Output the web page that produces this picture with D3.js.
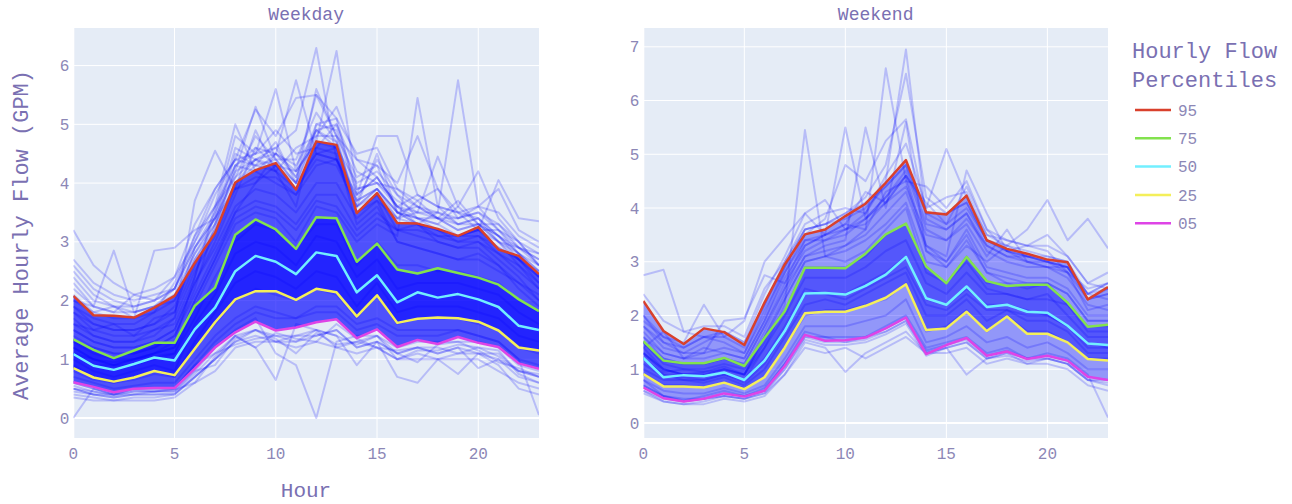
<!DOCTYPE html>
<html>
<head>
<meta charset="utf-8">
<script src="https://cdn.jsdelivr.net/npm/d3@7"></script>
<style>
  body { margin: 0; background: #ffffff; }
  svg { display: block; }
  text { font-family: "Liberation Mono", "Courier New", monospace; }
</style>
</head>
<body>
<svg id="chart" width="1292" height="504"></svg>
<script>
// ---- data -------------------------------------------------------------
const hours = [0,1,2,3,4,5,6,7,8,9,10,11,12,13,14,15,16,17,18,19,20,21,22,23];
const xTicks = [0, 5, 10, 15, 20];
const weekdayYTicks = [0, 1, 2, 3, 4, 5, 6];
const weekendYTicks = [0, 1, 2, 3, 4, 5, 6, 7];
const percentileNames = ["95", "75", "50", "25", "05"];

// weekday hourly-flow percentiles (GPM)
const weekdayP95 = [2.08,1.75,1.74,1.71,1.88,2.08,2.64,3.15,4.01,4.22,4.34,3.89,4.71,4.65,3.49,3.83,3.32,3.31,3.22,3.10,3.25,2.87,2.76,2.45];
const weekdayP75 = [1.34,1.16,1.02,1.15,1.28,1.28,1.91,2.22,3.12,3.38,3.21,2.88,3.42,3.40,2.66,2.97,2.53,2.46,2.55,2.47,2.39,2.27,2.02,1.82];
const weekdayP50 = [1.09,0.89,0.82,0.92,1.03,0.98,1.51,1.88,2.50,2.76,2.66,2.45,2.82,2.76,2.14,2.43,1.97,2.14,2.05,2.11,2.02,1.89,1.57,1.50];
const weekdayP25 = [0.85,0.69,0.62,0.69,0.80,0.73,1.18,1.63,2.02,2.16,2.16,2.01,2.20,2.14,1.73,2.09,1.62,1.69,1.71,1.70,1.64,1.49,1.20,1.15];
const weekdayP05 = [0.61,0.53,0.44,0.50,0.51,0.51,0.84,1.20,1.46,1.64,1.49,1.54,1.63,1.68,1.36,1.51,1.21,1.33,1.26,1.38,1.28,1.21,0.93,0.84];

// weekend hourly-flow percentiles (GPM)
const weekendP95 = [2.27,1.71,1.47,1.76,1.69,1.45,2.24,2.95,3.51,3.60,3.85,4.08,4.47,4.89,3.92,3.88,4.23,3.40,3.24,3.15,3.04,2.99,2.30,2.53];
const weekendP75 = [1.52,1.16,1.11,1.11,1.21,1.06,1.58,2.08,2.89,2.89,2.88,3.15,3.51,3.71,2.91,2.60,3.09,2.64,2.55,2.57,2.57,2.24,1.79,1.83];
const weekendP50 = [1.21,0.85,0.89,0.87,0.94,0.80,1.16,1.71,2.41,2.42,2.39,2.55,2.76,3.09,2.32,2.20,2.54,2.16,2.20,2.07,2.05,1.81,1.48,1.45];
const weekendP25 = [0.91,0.68,0.68,0.66,0.75,0.63,0.85,1.40,2.04,2.07,2.07,2.18,2.33,2.58,1.73,1.76,2.07,1.71,1.98,1.66,1.66,1.50,1.19,1.16];
const weekendP05 = [0.66,0.46,0.40,0.45,0.55,0.49,0.60,1.06,1.64,1.53,1.54,1.59,1.76,1.96,1.28,1.45,1.58,1.25,1.33,1.19,1.25,1.16,0.86,0.80];

// individual meter profiles, weekday
const weekdayProfiles = [
  [1.9,1.6,1.5,1.5,1.6,1.8,2.6,3.2,4.0,4.4,4.6,4.9,6.3,4.4,3.6,3.9,3.5,3.3,3.2,3.0,3.1,2.8,2.5,2.2],
  [1.5,1.3,1.2,1.2,1.3,1.5,2.3,3.0,3.8,4.6,4.3,4.2,4.7,6.25,3.9,4.0,3.6,3.4,3.3,3.1,3.2,3.0,2.7,2.3],
  [1.2,1.0,0.9,1.0,1.1,1.2,2.0,2.7,3.5,4.0,4.5,5.75,4.5,4.4,3.5,3.7,3.0,2.9,2.8,2.7,2.8,2.6,2.2,1.9],
  [1.7,1.4,1.3,1.3,1.5,1.6,2.4,3.5,4.8,4.5,5.6,4.2,5.5,5.1,3.8,4.1,3.6,3.3,3.0,2.9,3.0,2.7,2.4,2.0],
  [1.4,1.2,1.1,1.1,1.2,1.4,2.2,3.3,4.2,5.3,4.4,4.0,5.6,4.8,3.5,3.8,3.2,3.1,3.0,2.9,2.9,2.6,2.3,2.1],
  [1.3,1.1,1.0,1.0,1.1,1.3,2.4,3.6,5.0,4.2,4.0,3.8,4.6,4.5,3.3,3.6,3.0,2.9,2.8,2.7,2.7,2.5,2.3,2.0],
  [1.6,1.4,1.3,1.3,1.4,1.7,3.7,4.55,3.9,4.0,4.3,3.9,4.5,4.6,3.7,3.9,3.4,3.3,3.1,3.0,3.0,2.8,2.6,2.3],
  [1.1,0.9,0.9,0.9,1.0,1.1,1.9,2.6,3.3,3.5,3.4,3.0,3.6,3.5,3.0,3.3,3.1,5.45,3.6,3.3,3.4,3.0,2.6,2.2],
  [1.2,1.0,0.9,1.0,1.1,1.2,2.0,2.7,3.4,3.6,3.5,3.2,3.7,3.6,3.1,3.4,3.2,3.3,3.5,5.75,3.6,3.2,2.8,2.4],
  [1.8,1.5,1.4,1.4,1.5,1.7,2.5,3.1,3.9,4.1,4.1,3.8,4.3,4.4,3.8,4.8,4.8,3.8,3.6,3.5,3.4,3.1,2.8,2.5],
  [1.5,1.3,1.2,1.2,1.3,1.5,2.3,2.9,3.6,3.9,3.8,3.5,4.0,4.0,3.4,3.7,3.4,3.5,4.45,3.6,4.2,3.4,3.0,2.6],
  [1.3,1.2,1.1,1.1,1.2,1.4,2.1,2.8,3.5,3.7,3.6,3.3,3.8,3.8,3.2,3.5,3.2,3.2,3.1,3.1,3.2,4.05,3.4,3.35],
  [3.2,2.6,2.3,2.1,2.2,2.4,3.0,3.6,4.3,4.6,4.5,4.2,4.7,4.6,4.0,4.2,3.8,3.6,3.5,3.4,3.5,3.3,3.0,2.8],
  [2.3,1.9,2.85,1.8,1.9,2.0,2.8,3.3,4.0,4.3,4.2,3.9,4.4,4.3,3.6,3.9,3.5,3.4,3.2,3.1,3.2,2.9,2.7,2.4],
  [2.0,1.8,1.7,1.7,2.85,2.9,3.2,3.4,4.1,4.4,4.3,4.0,4.5,4.4,3.7,3.9,3.5,3.3,3.2,3.1,3.1,2.9,2.7,2.5],
  [0.0,0.5,0.4,0.5,0.5,0.5,0.9,1.3,1.6,1.8,1.7,1.7,1.8,1.8,1.5,1.6,1.4,1.4,1.4,1.5,1.4,1.3,1.0,0.9],
  [0.6,0.5,0.4,0.5,0.5,0.5,0.8,1.2,1.5,1.7,1.1,0.9,0.0,1.3,1.4,1.4,1.2,1.3,1.3,1.3,1.3,1.2,0.9,0.8],
  [0.5,0.4,0.35,0.4,0.4,0.4,0.7,1.0,1.4,1.2,0.65,1.6,1.5,1.2,1.3,1.2,1.0,1.1,1.0,1.1,1.1,1.0,0.8,0.7],
  [0.4,0.35,0.3,0.35,0.35,0.4,0.7,1.0,1.3,1.4,1.3,1.3,1.4,1.5,1.2,1.3,0.7,0.6,1.0,0.75,1.1,0.9,0.5,0.4],
  [0.7,0.6,0.5,0.55,0.6,0.6,1.0,1.4,1.7,1.9,1.8,1.7,1.9,1.9,1.6,1.7,1.5,1.5,1.5,1.5,1.4,1.3,1.0,0.05],
  [0.5,0.45,0.4,0.45,0.45,0.5,0.9,1.1,1.4,1.5,1.4,1.4,1.5,1.4,0.9,1.3,1.1,1.2,1.1,1.2,0.85,1.0,0.7,0.6],
  [0.35,0.3,0.3,0.3,0.3,0.35,0.6,0.8,1.2,1.3,1.3,1.2,1.3,1.2,1.1,1.2,1.0,1.0,1.0,1.0,1.0,0.8,0.6,0.5],
  [1.0,0.8,0.7,0.8,0.9,0.8,1.6,2.1,2.8,3.0,2.9,2.6,3.1,3.0,2.4,2.7,2.2,2.3,2.3,2.3,2.2,2.1,1.8,1.6],
  [0.8,0.65,0.6,0.65,0.75,0.7,1.3,1.8,2.3,2.5,2.4,2.2,2.5,2.4,1.9,2.3,1.8,1.9,1.9,1.9,1.8,1.7,1.4,1.3],
  [1.6,1.5,1.6,1.4,1.7,1.8,2.9,3.4,3.9,4.9,4.2,3.6,5.0,5.1,4.5,4.6,3.9,3.6,3.4,3.7,3.3,3.1,2.7,2.4],
  [2.6,2.2,2.0,1.9,2.0,2.2,3.1,3.9,4.4,5.25,4.8,5.45,5.5,4.8,4.4,4.3,4.0,4.8,3.9,3.5,3.6,3.9,3.2,3.0],
  [1.1,1.0,0.95,1.0,1.05,1.1,1.7,2.4,3.0,3.3,3.2,2.9,3.3,3.3,2.6,3.0,2.6,2.6,2.5,2.5,2.4,2.3,2.0,1.8],
  [0.9,0.7,0.6,0.7,0.8,0.7,1.2,1.6,2.0,2.2,2.1,2.0,2.2,2.1,1.7,2.1,1.6,1.7,1.7,1.7,1.6,1.5,1.2,1.1],
  [2.4,2.0,1.9,1.9,2.0,2.2,2.9,3.5,4.3,4.5,4.6,4.1,5.0,4.9,3.8,4.1,3.6,3.5,3.4,3.3,3.4,3.1,2.9,2.6],
  [2.2,1.9,1.8,1.8,1.9,2.1,2.8,3.4,4.2,4.4,4.5,4.3,4.9,5.0,3.9,4.0,3.7,3.5,3.5,3.3,3.3,3.0,2.9,2.7],
  [1.9,1.7,1.6,1.6,1.8,2.0,2.7,3.3,4.5,4.3,4.7,4.0,4.8,4.8,4.1,4.3,3.5,3.6,3.4,3.4,3.5,3.2,3.0,2.6],
  [2.1,1.8,1.9,1.7,1.8,2.3,3.1,3.6,4.1,4.8,4.4,4.4,5.2,4.7,3.7,4.4,3.8,3.4,3.3,3.6,3.3,3.3,2.9,2.8],
  [2.7,2.3,2.1,2.0,2.1,2.2,3.0,3.8,4.4,4.5,4.9,4.5,4.6,5.0,4.2,4.0,3.9,3.7,3.9,3.4,3.6,3.5,3.1,2.9],
  [1.8,1.6,1.5,1.5,1.6,1.9,2.7,3.2,4.3,4.2,4.5,4.1,4.9,4.7,3.6,4.5,3.5,3.4,3.4,3.2,3.3,3.0,2.8,2.6],
  [2.5,2.1,1.9,1.8,1.9,2.2,2.9,3.4,4.6,4.4,4.2,4.6,4.8,5.3,4.4,4.1,3.6,3.8,3.6,3.5,3.2,3.2,2.9,2.7],
  [2.0,1.9,1.8,2.1,2.0,2.4,3.3,3.9,4.4,4.3,4.4,4.0,4.9,4.6,3.6,3.8,3.4,3.7,3.4,3.2,3.3,3.1,2.8,2.5],
  [0.45,0.4,0.35,0.4,0.4,0.42,0.7,1.0,1.3,1.5,1.3,1.4,1.4,1.5,1.2,1.3,1.1,1.2,1.1,1.2,1.1,1.1,0.8,0.7],
  [0.55,0.45,0.38,0.45,0.45,0.45,0.75,1.1,1.25,1.35,1.4,1.3,1.5,1.4,1.25,1.4,1.0,1.15,1.15,1.25,1.2,1.05,0.8,0.75],
  [0.5,0.4,0.4,0.4,0.45,0.48,0.6,1.05,1.4,1.2,1.45,1.35,1.3,1.6,1.35,1.2,1.15,1.2,1.2,1.1,1.2,1.15,0.75,0.6],
  [0.6,0.5,0.42,0.48,0.45,0.46,0.8,0.9,1.35,1.5,1.35,1.1,1.45,1.25,1.3,1.4,1.1,0.95,1.25,1.3,1.15,0.95,0.85,0.7]
];

// individual meter profiles, weekend
const weekendProfiles = [
  [1.6,1.2,1.1,1.1,1.2,1.1,1.8,2.6,3.2,3.4,3.6,3.9,4.5,6.95,3.8,3.6,3.9,3.2,3.0,2.9,2.9,2.8,2.1,2.2],
  [1.3,1.0,0.9,0.9,1.0,0.9,1.5,2.3,3.0,3.1,3.3,3.6,6.6,4.5,3.2,3.0,3.5,2.8,2.7,2.6,2.6,2.4,1.9,1.9],
  [1.8,1.4,1.3,1.3,1.4,1.3,2.0,2.9,3.6,3.7,3.9,4.2,4.8,6.5,4.2,3.9,4.1,3.4,3.2,3.1,3.0,2.9,2.3,2.4],
  [1.2,0.9,0.8,0.8,0.9,0.8,1.4,2.2,5.45,3.1,3.0,3.2,3.6,4.0,2.8,2.6,3.0,2.5,2.4,2.3,2.3,2.2,1.7,1.7],
  [1.5,1.1,1.0,1.0,1.1,1.0,1.7,2.5,3.3,3.5,5.5,3.8,4.1,4.6,3.3,3.0,3.6,2.9,2.8,2.7,2.7,2.5,2.0,2.0],
  [1.4,1.0,0.9,0.95,1.0,0.9,1.6,2.4,3.1,3.3,3.4,5.5,4.0,5.6,3.2,2.9,3.4,2.8,2.6,2.5,2.6,2.4,1.9,1.9],
  [1.7,1.3,1.2,1.2,1.3,1.2,1.9,2.7,3.3,3.5,3.6,3.8,4.2,4.6,4.0,5.1,4.2,3.5,3.3,3.1,3.0,2.8,2.3,2.4],
  [1.5,1.2,1.1,1.1,1.2,1.1,1.8,2.5,3.1,3.2,3.3,3.5,3.9,4.3,3.3,3.1,4.7,3.9,3.2,3.0,2.9,2.7,2.2,2.1],
  [1.3,1.0,0.9,0.9,1.0,0.9,1.6,2.3,3.0,3.1,3.2,3.4,3.7,4.1,3.0,2.9,3.3,3.0,3.3,3.6,4.15,3.4,3.8,3.25],
  [2.75,2.85,1.7,1.6,1.7,1.5,2.2,3.0,3.6,3.7,3.8,4.0,4.4,4.8,3.7,3.6,3.9,3.3,3.1,3.0,3.0,2.9,2.4,2.6],
  [1.9,1.6,1.5,2.2,1.6,1.9,3.0,3.45,3.9,4.15,3.6,3.7,4.1,4.4,3.5,3.4,3.7,3.1,3.6,3.0,2.9,2.9,2.4,2.6],
  [0.6,0.4,0.35,0.35,0.45,0.4,0.5,0.9,1.5,1.4,0.95,1.3,1.5,1.7,1.3,1.3,1.4,1.1,1.2,1.1,1.1,1.0,0.7,0.6],
  [0.8,0.5,0.45,0.45,0.5,0.45,0.6,1.1,1.7,1.6,1.6,1.6,1.8,2.0,1.4,1.5,1.6,1.3,1.4,1.2,1.3,1.2,0.9,0.1],
  [0.7,0.5,0.4,0.45,0.55,0.5,0.6,1.0,1.6,1.5,1.5,1.6,1.7,1.9,1.3,1.4,0.9,1.2,1.3,1.2,1.2,1.1,0.8,0.8],
  [1.2,0.9,0.9,0.85,0.95,0.8,1.2,1.8,2.5,2.4,2.4,2.6,2.8,3.1,2.3,2.2,2.5,2.2,2.2,2.1,2.0,1.8,1.5,1.4],
  [1.5,1.15,1.1,1.1,1.2,1.05,1.6,2.1,2.9,2.9,2.9,3.1,3.5,3.7,2.9,2.6,3.1,2.6,2.6,2.6,2.6,2.2,1.8,1.8],
  [0.9,0.7,0.7,0.65,0.75,0.65,0.85,1.4,2.0,2.1,2.1,2.2,2.3,2.6,1.7,1.8,2.1,1.7,2.0,1.7,1.7,1.5,1.2,1.2],
  [1.0,0.8,0.8,0.75,0.85,0.7,1.0,1.6,2.2,2.3,2.2,2.4,2.6,2.8,2.0,2.0,2.3,1.9,2.1,1.9,1.9,1.7,1.3,1.3],
  [2.0,1.5,1.4,1.6,1.5,1.3,2.1,2.8,3.5,3.8,4.8,4.5,5.25,5.65,3.9,3.7,4.0,3.4,3.2,3.1,3.1,3.0,2.3,2.5],
  [1.4,1.7,1.2,1.3,1.9,1.95,2.75,2.6,3.4,3.5,3.7,3.6,4.3,4.5,4.4,4.0,4.5,3.6,3.4,3.3,3.5,3.1,2.6,2.5],
  [0.55,0.4,0.35,0.4,0.5,0.45,0.55,0.9,1.4,1.3,1.4,1.2,1.4,1.6,1.3,1.4,1.5,1.2,1.3,1.1,1.2,1.1,0.8,0.7],
  [1.1,0.85,0.85,0.8,0.9,0.75,1.1,1.7,2.4,2.4,2.3,2.5,2.7,2.9,2.2,2.1,2.4,2.1,2.1,2.0,2.0,1.8,1.4,1.4],
  [2.0,1.6,1.4,1.6,1.6,1.4,2.2,2.9,3.6,3.7,3.9,4.1,4.4,4.8,3.9,3.9,4.1,3.4,3.3,3.2,3.1,3.0,2.4,2.5],
  [1.8,1.5,1.3,1.5,1.7,1.5,2.4,3.1,3.9,3.5,3.7,4.3,4.1,4.6,4.1,3.7,4.4,3.6,3.2,3.3,3.2,2.8,2.5,2.6],
  [2.4,1.9,1.7,1.8,1.8,1.6,2.5,3.0,3.7,3.9,4.0,3.9,4.6,5.2,4.0,4.2,4.3,3.5,3.4,3.3,3.3,3.1,2.6,2.8],
  [0.6,0.45,0.4,0.45,0.5,0.45,0.55,1.0,1.55,1.45,1.45,1.5,1.65,1.85,1.25,1.4,1.5,1.2,1.25,1.15,1.2,1.1,0.8,0.75],
  [0.7,0.5,0.42,0.5,0.6,0.5,0.65,1.1,1.6,1.6,1.5,1.55,1.7,1.9,1.35,1.45,1.55,1.25,1.35,1.2,1.25,1.15,0.85,0.8],
  [1.6,1.3,1.2,1.4,1.3,1.2,1.9,2.8,3.4,3.4,3.5,3.8,4.2,4.7,3.6,3.4,3.8,3.3,3.1,3.1,3.0,2.9,2.4,2.3],
  [1.3,0.95,1.0,0.95,1.05,0.9,1.4,2.0,2.7,2.7,2.7,2.9,3.2,3.4,2.6,2.4,2.8,2.4,2.4,2.3,2.4,2.0,1.6,1.6],
  [0.8,0.6,0.55,0.55,0.65,0.55,0.7,1.2,1.8,1.8,1.8,1.9,2.0,2.3,1.5,1.6,1.8,1.5,1.6,1.4,1.5,1.3,1.0,1.0]
];

// ---- styling ----------------------------------------------------------
const percentileColors = ["#d9402c", "#82e24e", "#72efff", "#f4ef5a", "#de44e6"];
const textColor = "#7a70b2";
const tickColor = "#8c87b6";
const plotBg = "#e5ecf6";

const svg = d3.select("#chart");

const panels = [
  {
    title: "Weekday", left: 73.3, right: 539, top: 28, bottom: 438,
    yDomain: [-0.34, 6.64], yTicks: weekdayYTicks,
    profiles: weekdayProfiles,
    pct: [weekdayP95, weekdayP75, weekdayP50, weekdayP25, weekdayP05],
    outerAlpha: 0.66, innerAlpha: 0.55
  },
  {
    title: "Weekend", left: 643.3, right: 1108, top: 28, bottom: 438,
    yDomain: [-0.28, 7.35], yTicks: weekendYTicks,
    profiles: weekendProfiles,
    pct: [weekendP95, weekendP75, weekendP50, weekendP25, weekendP05],
    outerAlpha: 0.36, innerAlpha: 0.42
  }
];

panels.forEach((p, pi) => {
  const x = d3.scaleLinear().domain([0, 23]).range([p.left, p.right]);
  const y = d3.scaleLinear().domain(p.yDomain).range([p.bottom, p.top]);
  const g = svg.append("g");

  const clipId = "clip" + pi;
  svg.append("clipPath").attr("id", clipId)
    .append("rect")
    .attr("x", p.left).attr("y", p.top)
    .attr("width", p.right - p.left).attr("height", p.bottom - p.top);

  g.append("rect")
    .attr("x", p.left).attr("y", p.top)
    .attr("width", p.right - p.left).attr("height", p.bottom - p.top)
    .attr("fill", plotBg);

  // grid
  g.selectAll(".gy").data(p.yTicks).join("line")
    .attr("x1", p.left).attr("x2", p.right)
    .attr("y1", d => y(d)).attr("y2", d => y(d))
    .attr("stroke", "#ffffff").attr("stroke-width", d => d === 0 ? 2 : 1);
  g.selectAll(".gx").data(xTicks).join("line")
    .attr("x1", d => x(d)).attr("x2", d => x(d))
    .attr("y1", p.top).attr("y2", p.bottom)
    .attr("stroke", "#ffffff").attr("stroke-width", d => d === 0 ? 2 : 1);

  const body = g.append("g").attr("clip-path", `url(#${clipId})`);

  // density of the meter population between percentile envelopes
  const band = (lo, hi) => d3.area()
    .x((d, i) => x(hours[i]))
    .y0((d, i) => y(lo[i]))
    .y1((d, i) => y(hi[i]))(hours);
  body.append("path").attr("d", band(p.pct[4], p.pct[0]))
    .attr("fill", "#0000ff").attr("fill-opacity", p.outerAlpha);
  body.append("path").attr("d", band(p.pct[3], p.pct[1]))
    .attr("fill", "#0000ff").attr("fill-opacity", p.innerAlpha);

  // individual meters
  const line = d3.line().x((d, i) => x(hours[i])).y(d => y(d));
  body.selectAll(".meter").data(p.profiles).join("path")
    .attr("d", line)
    .attr("fill", "none")
    .attr("stroke", "#0000ff")
    .attr("stroke-opacity", 0.2)
    .attr("stroke-width", 2)
    .attr("stroke-linejoin", "round");

  // percentile curves
  body.selectAll(".pct").data(p.pct.slice().reverse()).join("path")
    .attr("d", line)
    .attr("fill", "none")
    .attr("stroke", (d, i) => percentileColors[4 - i])
    .attr("stroke-width", 2.5)
    .attr("stroke-linejoin", "round");

  // tick labels
  g.selectAll(".ty").data(p.yTicks).join("text")
    .attr("x", p.left - 4).attr("y", d => y(d))
    .attr("dy", "0.35em")
    .attr("text-anchor", "end")
    .attr("font-size", 16)
    .attr("fill", tickColor)
    .text(d => d);
  g.selectAll(".tx").data(xTicks).join("text")
    .attr("x", d => x(d)).attr("y", 459)
    .attr("text-anchor", "middle")
    .attr("font-size", 16)
    .attr("fill", tickColor)
    .text(d => d);

  // subplot title
  g.append("text")
    .attr("x", (p.left + p.right) / 2).attr("y", 20)
    .attr("text-anchor", "middle")
    .attr("font-size", 18)
    .attr("fill", textColor)
    .text(p.title);
});

// axis titles
svg.append("text")
  .attr("x", 306).attr("y", 497)
  .attr("text-anchor", "middle")
  .attr("font-size", 21)
  .attr("fill", textColor)
  .text("Hour");

svg.append("text")
  .attr("transform", "translate(28,235) rotate(-90)")
  .attr("text-anchor", "middle")
  .attr("font-size", 22)
  .attr("fill", textColor)
  .text("Average Hourly Flow (GPM)");

// legend
const legend = svg.append("g");
legend.append("text").attr("x", 1132).attr("y", 58)
  .attr("font-size", 22).attr("fill", textColor).text("Hourly Flow");
legend.append("text").attr("x", 1132).attr("y", 87)
  .attr("font-size", 22).attr("fill", textColor).text("Percentiles");
const items = legend.selectAll(".item").data(percentileNames).join("g")
  .attr("transform", (d, i) => `translate(0,${110 + i * 28.3})`);
items.append("line")
  .attr("x1", 1135).attr("x2", 1171)
  .attr("stroke", (d, i) => percentileColors[i])
  .attr("stroke-width", 2.5);
items.append("text")
  .attr("x", 1178).attr("dy", "0.35em")
  .attr("font-size", 16).attr("fill", tickColor)
  .text(d => d);
</script>
</body>
</html>
